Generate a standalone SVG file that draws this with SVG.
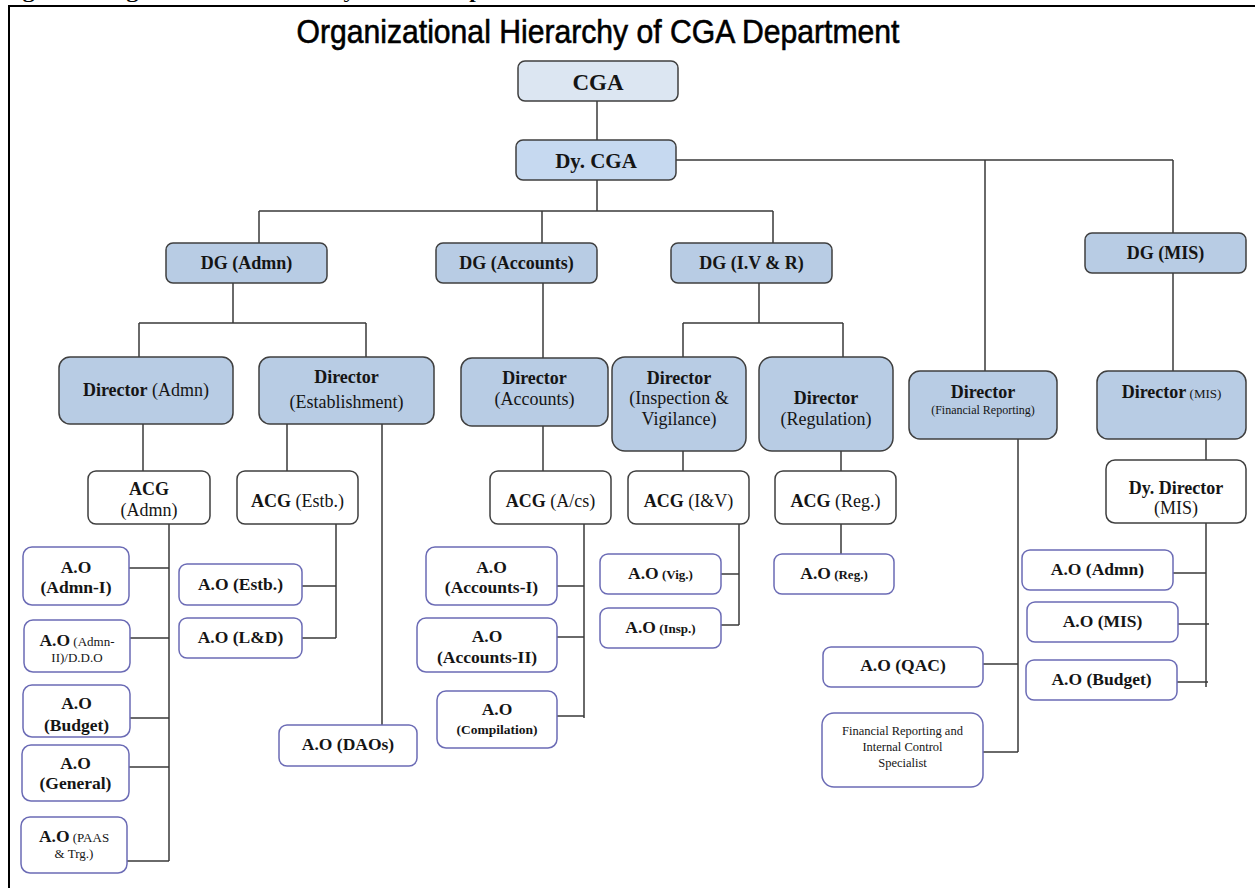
<svg xmlns="http://www.w3.org/2000/svg" width="1255" height="888" viewBox="0 0 1255 888">
<style>
.b{fill:#b8cce4;stroke:#3f3f3f;stroke-width:1.5}
.w{fill:#fff;stroke:#3f3f3f;stroke-width:1.5}
.a{fill:#fff;stroke:#6b6bb5;stroke-width:1.5}
.t{font-family:"Liberation Serif","Times New Roman",serif;fill:#151515;text-anchor:middle;font-size:18px}
.ao{font-size:17.5px;font-weight:bold}
.bd{font-weight:bold}
.s13{font-size:13px}
</style>
<defs>
<clipPath id="clipBud"><rect x="20" y="680" width="115" height="55"/></clipPath>
</defs>
<rect x="0" y="0" width="1255" height="888" fill="#fff"/>
<text x="2" y="-2" font-family="Liberation Serif,serif" font-weight="bold" font-size="17" textLength="560" lengthAdjust="spacingAndGlyphs" fill="#000">Figure 1: Organizational Hierarchy of CGA Department</text>
<path d="M9,888 V6 H1255" fill="none" stroke="#000" stroke-width="2"/>
<text x="598" y="43" font-family="Liberation Sans,Arial,sans-serif" font-size="34" text-anchor="middle" textLength="603" lengthAdjust="spacingAndGlyphs" fill="#000" stroke="#000" stroke-width="0.6">Organizational Hierarchy of CGA Department</text>

<g id="connectors" fill="none" stroke="#3a3a3a" stroke-width="1.5">
<path d="M597,101 V140"/>
<path d="M676,160 H1173 M985,160 V371 M1173,160 V233"/>
<path d="M597,180 V211 M259,211 H773 M259,211 V243 M542,211 V243 M773,211 V243"/>
<path d="M233,283 V323 M139,323 H366 M139,323 V357 M366,323 V357"/>
<path d="M543,283 V358"/>
<path d="M759,283 V323 M683,323 H843 M683,323 V357 M843,323 V357"/>
<path d="M1173,273 V371"/>
<path d="M143,424 V471"/>
<path d="M287,424 V471 M382,424 V725"/>
<path d="M169,524 V861 M129,568 H169 M130,638 H169 M130,718 H169 M129,767 H169 M127,861 H169"/>
<path d="M336,524 V638 M302,586 H336 M302,638 H336"/>
<path d="M543,426 V471"/>
<path d="M584,524 V718 M557,586 H584 M557,637 H584 M557,716 H584"/>
<path d="M683,451 V471"/>
<path d="M739,524 V625 M721,574 H739 M721,625 H739"/>
<path d="M841,451 V471 M841,524 V554"/>
<path d="M1018,439 V752 M983,664 H1018 M983,752 H1018"/>
<path d="M1206,439 V460"/>
<path d="M1206,523 V687 M1173,573 H1206 M1178,624 H1209 M1177,682 H1208"/>
</g>

<g id="cga"><rect x="518" y="61" width="160" height="40" rx="7" fill="#dce6f2" stroke="#3f3f3f" stroke-width="1.5"/><text class="t bd" x="598" y="90" style="font-size:23px">CGA</text></g>
<g id="dycga"><rect x="516" y="140" width="160" height="40" rx="7" fill="#c6d9f0" stroke="#3f3f3f" stroke-width="1.5"/><text class="t bd" x="596" y="168" style="font-size:21px">Dy. CGA</text></g>

<g id="dg-admn"><rect class="b" x="166" y="243" width="161" height="40" rx="7"/><text class="t bd" x="246.5" y="269">DG (Admn)</text></g>
<g id="dg-accounts"><rect class="b" x="436" y="243" width="161" height="40" rx="7"/><text class="t bd" x="516.5" y="269">DG (Accounts)</text></g>
<g id="dg-ivr"><rect class="b" x="671" y="243" width="161" height="40" rx="7"/><text class="t bd" x="751.5" y="269">DG (I.V &amp; R)</text></g>
<g id="dg-mis"><rect class="b" x="1085" y="233" width="161" height="40" rx="7"/><text class="t bd" x="1165.5" y="259">DG (MIS)</text></g>

<g id="dir-admn"><rect class="b" x="59" y="357" width="174" height="67" rx="11"/><text class="t" x="146" y="396"><tspan class="bd">Director</tspan> (Admn)</text></g>
<g id="dir-estb"><rect class="b" x="259" y="357" width="175" height="67" rx="11"/><text class="t bd" x="346.5" y="383">Director</text><text class="t" x="346.5" y="408">(Establishment)</text></g>
<g id="dir-accounts"><rect class="b" x="461" y="358" width="147" height="68" rx="11"/><text class="t bd" x="534.5" y="384">Director</text><text class="t" x="534.5" y="405">(Accounts)</text></g>
<g id="dir-iv"><rect class="b" x="612" y="357" width="134" height="94" rx="13"/><text class="t bd" x="679" y="384">Director</text><text class="t" x="679" y="404">(Inspection &amp;</text><text class="t" x="679" y="425">Vigilance)</text></g>
<g id="dir-reg"><rect class="b" x="759" y="357" width="134" height="94" rx="13"/><text class="t bd" x="826" y="404">Director</text><text class="t" x="826" y="425">(Regulation)</text></g>
<g id="dir-fr"><rect class="b" x="909" y="371" width="148" height="68" rx="11"/><text class="t bd" x="983" y="398">Director</text><text class="t" x="983" y="414" style="font-size:12px">(Financial Reporting)</text></g>
<g id="dir-mis"><rect class="b" x="1097" y="371" width="149" height="68" rx="11"/><text class="t" x="1171.5" y="398"><tspan class="bd">Director</tspan><tspan class="s13"> (MIS)</tspan></text></g>

<g id="acg-admn"><rect class="w" x="88" y="471" width="122" height="53" rx="8"/><text class="t bd" x="149" y="495">ACG</text><text class="t" x="149" y="516">(Admn)</text></g>
<g id="acg-estb"><rect class="w" x="237" y="471" width="121" height="53" rx="8"/><text class="t" x="297.5" y="507"><tspan class="bd">ACG</tspan> (Estb.)</text></g>
<g id="acg-acs"><rect class="w" x="490" y="471" width="121" height="53" rx="8"/><text class="t" x="550.5" y="507"><tspan class="bd">ACG</tspan> (A/cs)</text></g>
<g id="acg-iv"><rect class="w" x="628" y="471" width="121" height="53" rx="8"/><text class="t" x="688.5" y="507"><tspan class="bd">ACG</tspan> (I&amp;V)</text></g>
<g id="acg-reg"><rect class="w" x="775" y="471" width="121" height="53" rx="8"/><text class="t" x="835.5" y="507"><tspan class="bd">ACG</tspan> (Reg.)</text></g>
<g id="dydir-mis"><rect class="w" x="1106" y="460" width="140" height="63" rx="9"/><text class="t bd" x="1176" y="494">Dy. Director</text><text class="t" x="1176" y="514">(MIS)</text></g>

<g id="ao-admn1"><rect class="a" x="23" y="547" width="106" height="58" rx="9"/><text class="t ao" x="76" y="573">A.O</text><text class="t ao" x="76" y="593">(Admn-I)</text></g>
<g id="ao-admn2"><rect class="a" x="24" y="620" width="106" height="52" rx="9"/><text class="t" x="77" y="646"><tspan class="ao">A.O</tspan><tspan class="s13"> (Admn-</tspan></text><text class="t s13" x="77" y="662">II)/D.D.O</text></g>
<g id="ao-budget1"><rect class="a" x="23" y="685" width="107" height="52" rx="9"/><text class="t ao" x="76.5" y="709">A.O</text><text class="t ao" x="76.5" y="731" clip-path="url(#clipBud)">(Budget)</text></g>
<g id="ao-general"><rect class="a" x="22" y="745" width="107" height="56" rx="9"/><text class="t ao" x="75.5" y="769">A.O</text><text class="t ao" x="75.5" y="789">(General)</text></g>
<g id="ao-paas"><rect class="a" x="21" y="817" width="106" height="56" rx="9"/><text class="t" x="74" y="842"><tspan class="ao">A.O</tspan><tspan class="s13"> (PAAS</tspan></text><text class="t s13" x="74" y="858">&amp; Trg.)</text></g>
<g id="ao-estb"><rect class="a" x="179" y="564" width="123" height="41" rx="8"/><text class="t ao" x="240.5" y="590">A.O (Estb.)</text></g>
<g id="ao-ld"><rect class="a" x="179" y="618" width="123" height="40" rx="8"/><text class="t ao" x="240.5" y="643">A.O (L&amp;D)</text></g>
<g id="ao-daos"><rect class="a" x="279" y="725" width="138" height="41" rx="8"/><text class="t ao" x="348" y="750">A.O (DAOs)</text></g>
<g id="ao-acc1"><rect class="a" x="426" y="547" width="131" height="58" rx="9"/><text class="t ao" x="491.5" y="573">A.O</text><text class="t ao" x="491.5" y="593">(Accounts-I)</text></g>
<g id="ao-acc2"><rect class="a" x="417" y="618" width="140" height="54" rx="9"/><text class="t ao" x="487" y="642">A.O</text><text class="t ao" x="487" y="663">(Accounts-II)</text></g>
<g id="ao-comp"><rect class="a" x="437" y="691" width="120" height="57" rx="9"/><text class="t ao" x="497" y="715">A.O</text><text class="t bd" x="497" y="734" style="font-size:13.5px">(Compilation)</text></g>
<g id="ao-vig"><rect class="a" x="600" y="554" width="121" height="40" rx="8"/><text class="t" x="660.5" y="579"><tspan class="ao">A.O</tspan><tspan class="bd s13"> (Vig.)</tspan></text></g>
<g id="ao-insp"><rect class="a" x="600" y="608" width="121" height="40" rx="8"/><text class="t" x="660.5" y="633"><tspan class="ao">A.O</tspan><tspan class="bd s13"> (Insp.)</tspan></text></g>
<g id="ao-reg"><rect class="a" x="774" y="554" width="120" height="40" rx="8"/><text class="t" x="834" y="579"><tspan class="ao">A.O</tspan><tspan class="bd s13"> (Reg.)</tspan></text></g>
<g id="ao-qac"><rect class="a" x="823" y="647" width="160" height="40" rx="8"/><text class="t ao" x="903" y="671">A.O (QAC)</text></g>
<g id="fric"><rect class="a" x="822" y="713" width="161" height="74" rx="12"/><text class="t" x="902.5" y="735" style="font-size:12.5px">Financial Reporting and</text><text class="t" x="902.5" y="751" style="font-size:12.5px">Internal Control</text><text class="t" x="902.5" y="767" style="font-size:12.5px">Specialist</text></g>
<g id="ao-admn-mis"><rect class="a" x="1022" y="550" width="151" height="40" rx="8"/><text class="t ao" x="1097.5" y="575">A.O (Admn)</text></g>
<g id="ao-mis"><rect class="a" x="1027" y="602" width="151" height="40" rx="8"/><text class="t ao" x="1102.5" y="627">A.O (MIS)</text></g>
<g id="ao-budget-mis"><rect class="a" x="1026" y="660" width="151" height="40" rx="8"/><text class="t ao" x="1101.5" y="685">A.O (Budget)</text></g>
</svg>
